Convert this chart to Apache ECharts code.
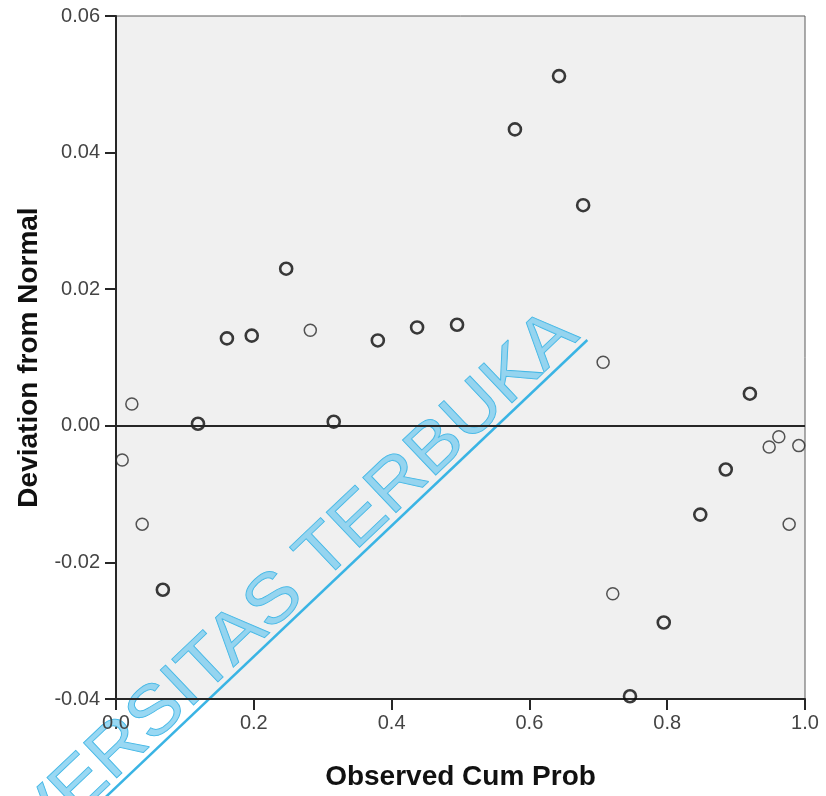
<!DOCTYPE html>
<html>
<head>
<meta charset="utf-8">
<script src="https://cdn.jsdelivr.net/npm/echarts@6/dist/echarts.min.js"></script>
<style>
  html, body { margin: 0; padding: 0; background: #fff; }
  #chart { width: 826px; height: 796px; }
</style>
</head>
<body>
<div id="chart"></div>
<script>
// Detrended normal P-P plot: deviation from normal vs observed cumulative probability.
// Points; "heavy" ones are drawn with a darker/thicker ring.

const heavyCumProb = [0.068, 0.119, 0.161, 0.197, 0.247, 0.316, 0.380, 0.437, 0.495,
                      0.579, 0.643, 0.678, 0.746, 0.795, 0.848, 0.885, 0.920]
const heavyDeviation = [-0.0240, 0.0003, 0.0128, 0.0132, 0.0230, 0.0006, 0.0125, 0.0144, 0.0148,
                        0.0434, 0.0512, 0.0323, -0.0396, -0.0288, -0.0130, -0.0064, 0.0047]

const lightCumProb = [0.009, 0.023, 0.038, 0.282, 0.707, 0.721, 0.948, 0.962, 0.977, 0.991]
const lightDeviation = [-0.0050, 0.0032, -0.0144, 0.0140, 0.0093, -0.0246, -0.0031, -0.0016, -0.0144, -0.0029]

const xTitle = 'Observed Cum Prob'
const yTitle = 'Deviation from Normal'
const watermark = 'UNIVERSITAS TERBUKA'

const FONT = '"Liberation Sans", Arial, sans-serif'
const WM_COLOR = '#3ab4e4'

function pairs(xs, ys) {
  return xs.map((x, i) => [x, ys[i]])
}

const chart = echarts.init(document.getElementById('chart'), null, { renderer: 'canvas' })

chart.setOption({
  backgroundColor: '#ffffff',
  animation: false,
  grid: {
    left: 116, right: 21, top: 16, bottom: 93,
    show: true,
    backgroundColor: '#f0f0f0',
    borderColor: '#5a5a5a',
    borderWidth: 1,
  },
  xAxis: {
    type: 'value',
    min: 0, max: 1, interval: 0.2,
    name: xTitle,
    nameLocation: 'middle',
    nameGap: 64,
    nameTextStyle: { fontFamily: FONT, fontSize: 28, fontWeight: 'bold', color: '#111' },
    axisLine: { onZero: false, lineStyle: { color: '#262626', width: 2 } },
    axisTick: { show: true, length: 11, lineStyle: { color: '#262626', width: 2 } },
    axisLabel: {
      fontFamily: FONT, fontSize: 20, color: '#444', margin: 14,
      formatter: (v) => v.toFixed(1),
    },
    splitLine: { show: false },
  },
  yAxis: {
    type: 'value',
    min: -0.04, max: 0.06, interval: 0.02,
    name: yTitle,
    nameLocation: 'middle',
    nameRotate: 90,
    nameGap: 69,
    nameTextStyle: { fontFamily: FONT, fontSize: 28, fontWeight: 'bold', color: '#111' },
    axisLine: { onZero: false, lineStyle: { color: '#262626', width: 2 } },
    axisTick: { show: true, length: 11, lineStyle: { color: '#262626', width: 2 } },
    axisLabel: {
      fontFamily: FONT, fontSize: 20, color: '#444', margin: 16,
      formatter: (v) => v.toFixed(2),
    },
    splitLine: { show: false },
  },
  series: [
    {
      name: 'heavy',
      type: 'scatter',
      symbol: 'circle',
      symbolSize: 12,
      clip: false,
      z: 3,
      itemStyle: { color: 'rgba(240,240,240,0)', borderColor: '#0a0a0a', borderWidth: 2.6 },
      data: pairs(heavyCumProb, heavyDeviation),
      markLine: {
        silent: true,
        symbol: 'none',
        label: { show: false },
        lineStyle: { type: 'solid', color: '#262626', width: 2 },
        data: [{ yAxis: 0 }],
      },
    },
    {
      name: 'light',
      type: 'scatter',
      symbol: 'circle',
      symbolSize: 12,
      clip: false,
      z: 3,
      itemStyle: { color: 'rgba(240,240,240,0)', borderColor: '#2a2a2a', borderWidth: 1.5 },
      data: pairs(lightCumProb, lightDeviation),
    },
  ],
  // watermark stamped across the plot (wide letters, so stretched along its baseline)
  graphic: [
    {
      type: 'group',
      x: 580, y: 337,
      rotation: 43.5 * Math.PI / 180,
      scaleX: 1.08,
      z: 50,
      silent: true,
      children: [
        {
          type: 'text',
          x: 0, y: 16.5,
          style: {
            text: watermark,
            font: '70px ' + FONT,
            fill: 'rgba(110,200,238,0.7)',
            stroke: WM_COLOR,
            lineWidth: 1,
            align: 'right',
            verticalAlign: 'bottom',
          },
        },
        {
          type: 'rect',
          shape: { x: -900, y: 6, width: 903, height: 2.5 },
          style: { fill: WM_COLOR },
        },
      ],
    },
  ],
})
</script>
</body>
</html>
